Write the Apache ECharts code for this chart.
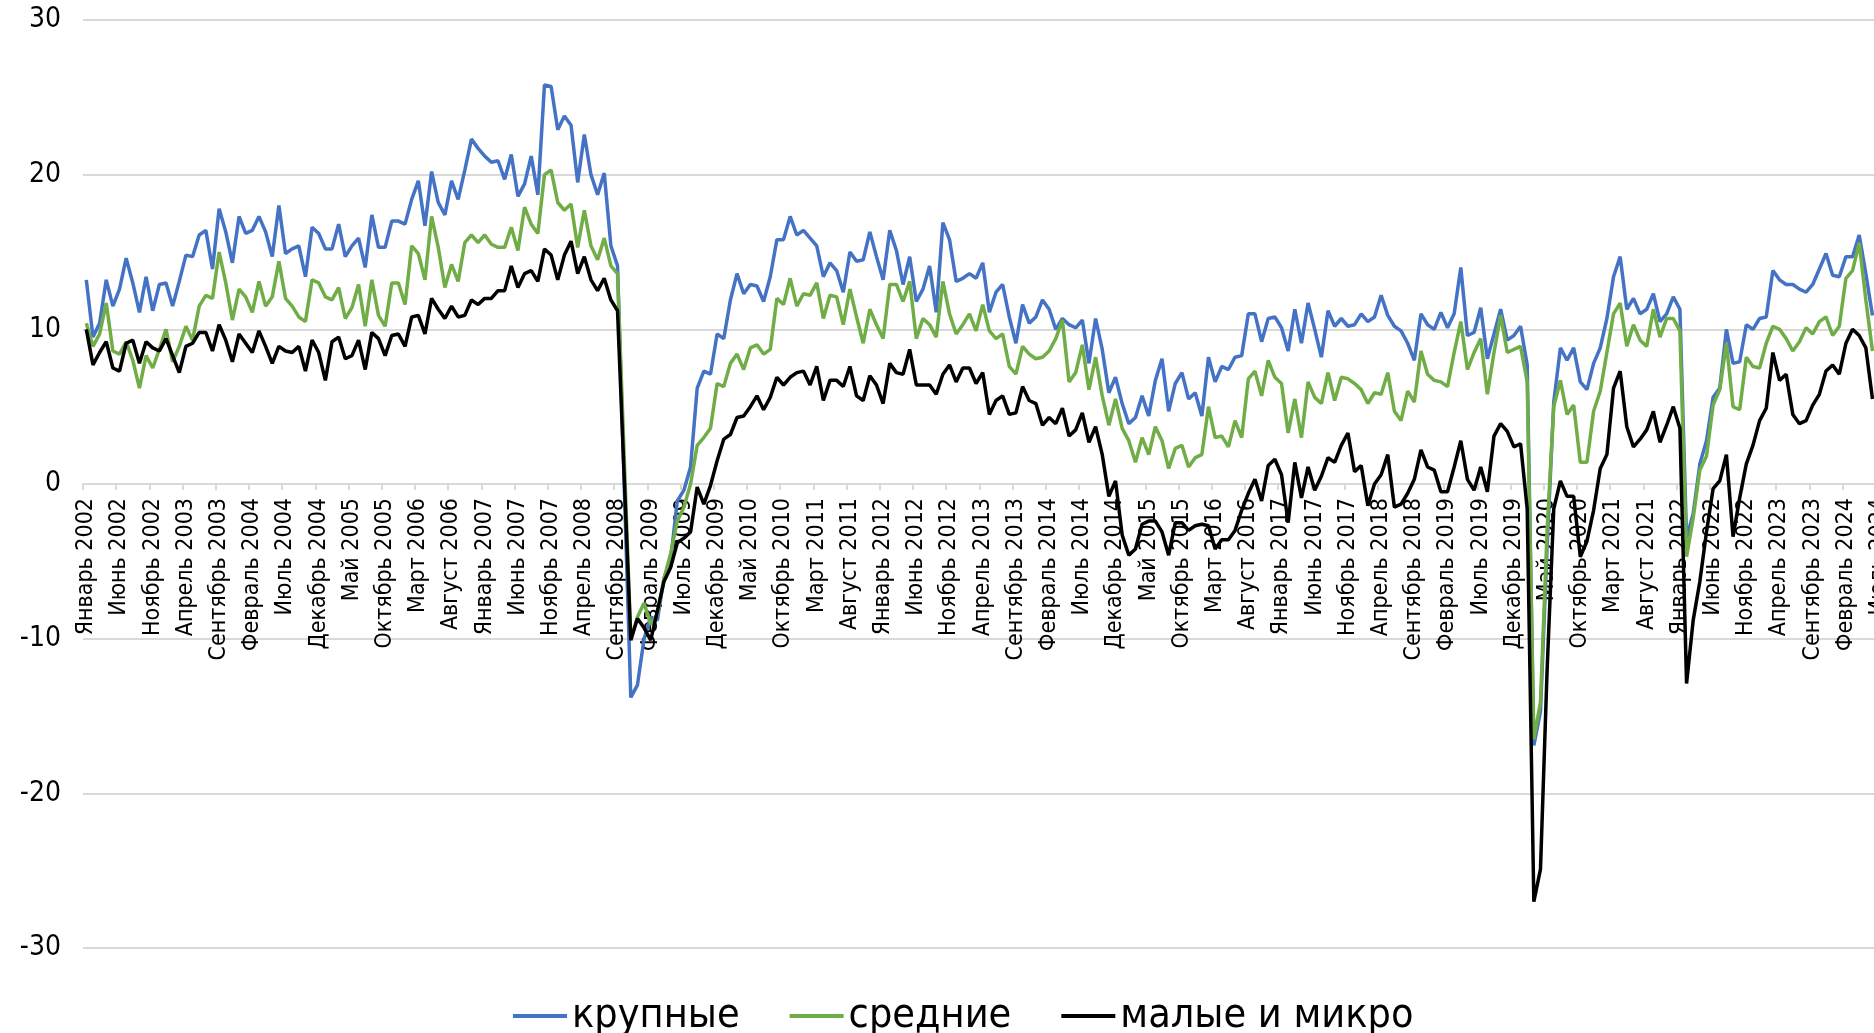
<!DOCTYPE html>
<html>
<head>
<meta charset="utf-8">
<script src="https://cdn.jsdelivr.net/npm/echarts@6/dist/echarts.min.js"></script>
<style>
  html, body { margin: 0; padding: 0; background: #fff; }
  #chart { width: 1874px; height: 1033px; }
</style>
</head>
<body>
<div id="chart"></div>
<script>
// подписи оси X: месяцы с января 2002 по июль 2024
const monthNames = ['Январь', 'Февраль', 'Март', 'Апрель', 'Май', 'Июнь',
  'Июль', 'Август', 'Сентябрь', 'Октябрь', 'Ноябрь', 'Декабрь'];
const firstYear = 2002;
const lastYear = 2024;
const lastMonthOfLastYear = 7;

const yTicks = [-30, -20, -10, 0, 10, 20, 30];

// крупные
const large = [
  13.2, 9.5, 10.4, 13.2, 11.5, 12.6, 14.6, 13.0, 11.1, 13.4,
  11.2, 12.9, 13.0, 11.5, 13.1, 14.8, 14.7, 16.1, 16.4, 13.9,
  17.8, 16.3, 14.3, 17.3, 16.2, 16.4, 17.3, 16.3, 14.7, 18.0,
  14.9, 15.2, 15.4, 13.4, 16.6, 16.2, 15.2, 15.2, 16.8, 14.7,
  15.4, 15.9, 14.0, 17.4, 15.3, 15.3, 17.0, 17.0, 16.8, 18.4,
  19.6, 16.7, 20.2, 18.2, 17.4, 19.6, 18.4, 20.3, 22.3, 21.7,
  21.2, 20.8, 20.9, 19.7, 21.3, 18.6, 19.4, 21.2, 18.7, 25.8,
  25.7, 22.9, 23.8, 23.2, 19.5, 22.6, 20.0, 18.7, 20.1, 15.4,
  14.1, 0.0, -13.8, -13.0, -10.0, -8.6, -8.8, -6.1, -4.9, -1.1,
  -0.4, 1.1, 6.2, 7.3, 7.1, 9.7, 9.4, 11.9, 13.6, 12.3,
  12.9, 12.8, 11.8, 13.4, 15.8, 15.8, 17.3, 16.1, 16.4, 15.9,
  15.4, 13.4, 14.3, 13.8, 12.4, 15.0, 14.4, 14.5, 16.3, 14.7,
  13.2, 16.4, 15.1, 12.9, 14.7, 11.8, 12.6, 14.1, 11.1, 16.9,
  15.8, 13.1, 13.3, 13.6, 13.3, 14.3, 11.1, 12.4, 12.9, 10.8,
  9.1, 11.6, 10.4, 10.8, 11.9, 11.3, 10.0, 10.7, 10.3, 10.1,
  10.6, 7.8, 10.7, 8.7, 5.9, 6.9, 5.2, 3.9, 4.3, 5.7,
  4.4, 6.7, 8.1, 4.7, 6.5, 7.2, 5.5, 5.9, 4.4, 8.2,
  6.6, 7.6, 7.4, 8.2, 8.3, 11.0, 11.0, 9.2, 10.7, 10.8,
  10.1, 8.6, 11.3, 9.1, 11.7, 10.0, 8.2, 11.2, 10.2, 10.7,
  10.2, 10.3, 11.0, 10.5, 10.8, 12.2, 10.9, 10.2, 9.9, 9.1,
  8.0, 11.0, 10.3, 10.0, 11.1, 10.1, 11.0, 14.0, 9.6, 9.8,
  11.4, 8.1, 9.7, 11.3, 9.3, 9.6, 10.2, 7.7, -16.9, -14.7,
  -4.0, 5.3, 8.8, 8.0, 8.8, 6.6, 6.1, 7.8, 8.8, 10.7,
  13.4, 14.7, 11.3, 12.0, 11.0, 11.3, 12.3, 10.5, 11.0, 12.1,
  11.3, -3.5, -1.9, 1.3, 2.8, 5.6, 6.2, 10.0, 7.8, 7.9,
  10.3, 10.0, 10.7, 10.8, 13.8, 13.2, 12.9, 12.9, 12.6, 12.4,
  12.9, 13.9, 14.9, 13.5, 13.4, 14.7, 14.7, 16.1, 13.6, 10.9
];

// средние
const medium = [
  10.4, 8.9, 9.7, 11.7, 8.6, 8.4, 9.2, 8.0, 6.2, 8.3,
  7.5, 8.7, 10.0, 7.9, 8.9, 10.2, 9.3, 11.5, 12.2, 12.0,
  15.0, 13.0, 10.6, 12.6, 12.1, 11.1, 13.1, 11.5, 12.1, 14.4,
  12.0, 11.5, 10.8, 10.5, 13.2, 13.0, 12.1, 11.9, 12.7, 10.7,
  11.4, 12.9, 10.2, 13.2, 10.9, 10.2, 13.0, 13.0, 11.6, 15.4,
  14.9, 13.2, 17.3, 15.3, 12.7, 14.2, 13.1, 15.6, 16.1, 15.6,
  16.1, 15.5, 15.3, 15.3, 16.6, 15.1, 17.9, 16.8, 16.2, 20.0,
  20.3, 18.2, 17.7, 18.1, 15.3, 17.7, 15.4, 14.5, 15.9, 14.1,
  13.6, 1.8, -10.0, -8.6, -7.7, -9.1, -8.4, -6.1, -4.5, -2.4,
  -1.5, 0.0, 2.5, 3.0, 3.6, 6.5, 6.3, 7.8, 8.4, 7.4,
  8.8, 9.0, 8.4, 8.7, 12.0, 11.6, 13.3, 11.5, 12.3, 12.2,
  13.0, 10.7, 12.2, 12.1, 10.3, 12.6, 10.8, 9.1, 11.3, 10.3,
  9.4, 12.9, 12.9, 11.8, 13.1, 9.4, 10.7, 10.3, 9.5, 13.1,
  11.0, 9.7, 10.3, 11.0, 9.9, 11.6, 9.9, 9.4, 9.7, 7.6,
  7.1, 8.9, 8.4, 8.1, 8.2, 8.6, 9.4, 10.6, 6.6, 7.2,
  9.0, 6.1, 8.2, 5.7, 3.8, 5.5, 3.6, 2.8, 1.4, 3.0,
  1.9, 3.7, 2.8, 1.0, 2.3, 2.5, 1.1, 1.7, 1.9, 5.0,
  3.0, 3.1, 2.4, 4.1, 3.0, 6.8, 7.3, 5.7, 8.0, 6.9,
  6.5, 3.3, 5.5, 3.0, 6.6, 5.6, 5.2, 7.2, 5.4, 6.9,
  6.8, 6.5, 6.1, 5.2, 5.9, 5.8, 7.2, 4.7, 4.1, 6.0,
  5.3, 8.6, 7.1, 6.7, 6.6, 6.3, 8.5, 10.5, 7.4, 8.5,
  9.4, 5.8, 8.5, 10.9, 8.5, 8.7, 8.9, 6.6, -16.5, -14.1,
  -3.0, 5.0, 6.7, 4.5, 5.1, 1.4, 1.4, 4.7, 6.0, 8.5,
  11.0, 11.7, 8.9, 10.3, 9.3, 8.9, 11.3, 9.5, 10.7, 10.7,
  9.9, -4.7, -2.2, 0.9, 1.8, 5.1, 6.1, 9.1, 5.0, 4.8,
  8.2, 7.6, 7.5, 9.1, 10.2, 10.0, 9.4, 8.6, 9.2, 10.1,
  9.7, 10.5, 10.8, 9.6, 10.2, 13.3, 13.8, 15.6, 11.9, 8.6
];

// малые и микро
const small = [
  10.0, 7.7, 8.5, 9.2, 7.5, 7.3, 9.1, 9.3, 7.8, 9.2,
  8.8, 8.6, 9.4, 8.3, 7.2, 8.9, 9.1, 9.8, 9.8, 8.6,
  10.3, 9.3, 7.9, 9.7, 9.1, 8.5, 9.9, 8.9, 7.8, 8.9,
  8.6, 8.5, 8.9, 7.3, 9.3, 8.5, 6.7, 9.2, 9.5, 8.1,
  8.3, 9.3, 7.4, 9.8, 9.4, 8.3, 9.6, 9.7, 8.9, 10.8,
  10.9, 9.7, 12.0, 11.3, 10.7, 11.5, 10.8, 10.9, 11.9, 11.6,
  12.0, 12.0, 12.5, 12.5, 14.1, 12.7, 13.6, 13.8, 13.1, 15.2,
  14.8, 13.2, 14.8, 15.7, 13.6, 14.7, 13.2, 12.5, 13.3, 11.9,
  11.2, 0.5, -10.1, -8.7, -9.3, -10.1, -8.2, -6.3, -5.4, -3.8,
  -3.5, -3.1, -0.2, -1.3, -0.1, 1.5, 2.9, 3.2, 4.3, 4.4,
  5.0, 5.7, 4.8, 5.6, 6.9, 6.4, 6.9, 7.2, 7.3, 6.4,
  7.6, 5.4, 6.7, 6.7, 6.3, 7.6, 5.7, 5.4, 7.0, 6.4,
  5.2, 7.8, 7.2, 7.1, 8.7, 6.4, 6.4, 6.4, 5.8, 7.1,
  7.7, 6.6, 7.5, 7.5, 6.5, 7.2, 4.5, 5.4, 5.7, 4.5,
  4.6, 6.3, 5.4, 5.2, 3.8, 4.3, 3.9, 4.9, 3.1, 3.5,
  4.6, 2.7, 3.7, 1.9, -0.8, 0.2, -3.3, -4.6, -4.2, -2.6,
  -2.4, -2.4, -3.1, -4.6, -2.5, -2.5, -3.0, -2.7, -2.6, -2.7,
  -4.2, -3.6, -3.6, -3.0, -1.7, -0.6, 0.3, -1.1, 1.2, 1.6,
  0.6, -2.5, 1.4, -0.9, 1.1, -0.4, 0.5, 1.7, 1.4, 2.5,
  3.3, 0.8, 1.2, -1.4, 0.0, 0.6, 1.9, -1.5, -1.3, -0.6,
  0.3, 2.2, 1.1, 0.9, -0.5, -0.5, 1.1, 2.8, 0.3, -0.4,
  1.1, -0.5, 3.1, 3.9, 3.4, 2.4, 2.6, -1.6, -27.0, -24.9,
  -12.0, -1.6, 0.2, -0.8, -0.8, -4.7, -3.7, -1.7, 1.0, 1.9,
  6.2, 7.3, 3.7, 2.4, 2.9, 3.5, 4.7, 2.7, 3.8, 5.0,
  3.6, -12.9, -8.8, -6.3, -3.1, -0.3, 0.2, 1.9, -3.4, -0.9,
  1.3, 2.5, 4.1, 4.9, 8.5, 6.7, 7.1, 4.5, 3.9, 4.1,
  5.1, 5.8, 7.3, 7.7, 7.1, 9.1, 10.0, 9.6, 8.8, 5.5
];

const categories = [];
for (let y = firstYear; y <= lastYear; y++) {
  const upTo = y === lastYear ? lastMonthOfLastYear : 12;
  for (let m = 0; m < upTo; m++) {
    categories.push(monthNames[m] + ' ' + y);
  }
}

const font = 'Tahoma, "DejaVu Sans Condensed", "Liberation Sans Narrow", "DejaVu Sans", sans-serif';
const gridColor = '#d9d9d9';

// высота сетки и положение нуля (ось X проходит через 0)
const gridTop = 20;
const gridHeight = 928;
const yMin = yTicks[0];
const yMax = yTicks[yTicks.length - 1];
const zeroOffset = gridHeight * (0 - yMin) / (yMax - yMin);

const myChart = echarts.init(document.getElementById('chart'), null, { renderer: 'canvas' });

const option = {
  animation: false,
  textStyle: { fontFamily: font },
  grid: {
    left: 83,
    top: gridTop,
    width: categories.length * 6.64,
    height: gridHeight,
    containLabel: false,
    outerBoundsMode: 'none'
  },
  legend: {
    left: 508,
    top: 987,
    icon: 'rect',
    itemWidth: 54,
    itemHeight: 4,
    itemGap: 50,
    textStyle: { fontSize: 41, lineHeight: 48, color: '#000', fontFamily: font },
    data: ['крупные', 'средние', 'малые и микро']
  },
  xAxis: {
    type: 'category',
    data: categories,
    boundaryGap: true,
    position: 'bottom',
    offset: -zeroOffset,
    axisLine: { onZero: false, lineStyle: { color: gridColor, width: 2 } },
    axisTick: { show: true, interval: 4, length: 6, lineStyle: { color: gridColor, width: 2 } },
    axisLabel: {
      interval: 4,
      rotate: 90,
      margin: 14,
      fontSize: 23,
      color: '#000',
      fontFamily: font
    },
    splitLine: { show: false }
  },
  yAxis: {
    type: 'value',
    min: yMin,
    max: yMax,
    interval: 10,
    axisLine: { show: false },
    axisTick: { show: false },
    axisLabel: { fontSize: 28, margin: 22, color: '#000', fontFamily: font },
    splitLine: { lineStyle: { color: gridColor, width: 2 } }
  },
  series: [
    {
      name: 'крупные',
      type: 'line',
      data: large,
      showSymbol: false,
      lineStyle: { color: '#4472C4', width: 3.5 },
      itemStyle: { color: '#4472C4' }
    },
    {
      name: 'средние',
      type: 'line',
      data: medium,
      showSymbol: false,
      lineStyle: { color: '#70AD47', width: 3.5 },
      itemStyle: { color: '#70AD47' }
    },
    {
      name: 'малые и микро',
      type: 'line',
      data: small,
      showSymbol: false,
      lineStyle: { color: '#000000', width: 3.5 },
      itemStyle: { color: '#000000' }
    }
  ]
};

myChart.setOption(option);
</script>
</body>
</html>
